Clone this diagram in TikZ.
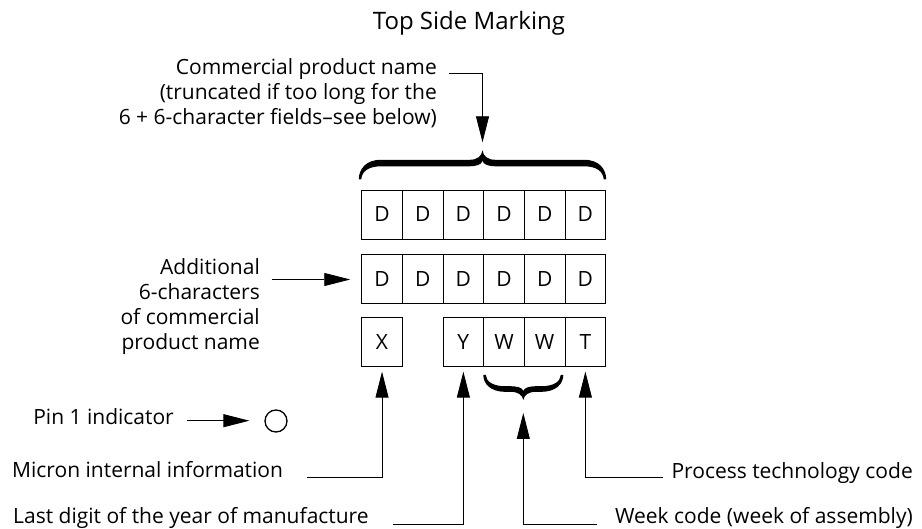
\documentclass[tikz,border=0pt]{standalone}
\usepackage{fontspec}
\setmainfont{Open Sans}
\usetikzlibrary{arrows.meta,calc}
\tikzset{
  pics/mybrace/.style={code={
    \fill (-#1,0) .. controls (-#1,-10) and ({-#1+7},-19.5) .. ({-#1+22},-19.5)
      -- (-13,-19.5) .. controls (-5,-19.5) and (-1,-23) .. (0,-29)
      .. controls (1,-23) and (5,-19.5) .. (13,-19.5)
      -- ({#1-22},-19.5) .. controls ({#1-7},-19.5) and (#1,-10) .. (#1,0)
      -- ({#1-2.5},0) .. controls ({#1-3},-8) and ({#1-10},-13) .. ({#1-22},-13)
      -- (14,-13) .. controls (6,-13) and (1,-14.5) .. (0,-18.5)
      .. controls (-1,-14.5) and (-6,-13) .. (-14,-13)
      -- ({-#1+22},-13) .. controls ({-#1+10},-13) and ({-#1+3},-8) .. ({-#1+2.5},0) -- cycle;
    \coordinate (-tip) at (0,-29);
  }},
  lbl/.style={inner sep=0pt, font=\fontsize{21}{25}\selectfont},
  ttl/.style={inner sep=0pt, font=\fontsize{24}{28}\selectfont},
  cell/.style={draw, line width=0.9pt, minimum width=40.67pt, minimum height=49pt,
    inner sep=0pt, font=\fontsize{21}{25}\selectfont},
  conn/.style={line width=0.9pt},
  arr/.style={line width=0.9pt, -{Triangle[length=26pt,width=13pt]}},
}
\begin{document}
\begin{tikzpicture}[x=1pt,y=-1pt]
\useasboundingbox (0,0) rectangle (922,529);

% title
\node[ttl, anchor=base] (title) at (469,29.3) {Top Side Marking};

% boxes
\foreach \i in {1,...,6} {
  \node[cell] (r1c\i) at ({361.7+40.67*(\i-0.5)},214.5) {D};
  \node[cell] (r2c\i) at ({361.7+40.67*(\i-0.5)},278.7) {D};
}
\node[cell] (x3) at ({361.7+40.67*0.5},341.7) {X};
\node[cell] (y3) at ({361.7+40.67*2.5},341.7) {Y};
\node[cell] (w3a) at ({361.7+40.67*3.5},341.7) {W};
\node[cell] (w3b) at ({361.7+40.67*4.5},341.7) {W};
\node[cell] (t3) at ({361.7+40.67*5.5},341.7) {T};

% braces
\pic (tb) at (482.5,179.3) {mybrace=123.7};
\pic[yscale=-0.862] (bb) at (523.3,375) {mybrace=40};

% commercial product name
\node[lbl, anchor=base east] (c1) at (437,75) {Commercial product name};
\node[lbl, anchor=base east] (c2) at (437,100) {(truncated if too long for the};
\node[lbl, anchor=base east] (c3) at (437,125) {6 + 6-character fields–see below)};
\coordinate (commstart) at (449.3,73.3);
\draw[arr] (commstart) -| ([yshift=8pt]tb-tip);

% additional
\node[lbl, anchor=base east] (a1) at (260,274.3) {Additional};
\node[lbl, anchor=base east] (a2) at (260,299.5) {6-characters};
\node[lbl, anchor=base east] (a3) at (260,324.7) {of commercial};
\node[lbl, anchor=base east] (a4) at (260,350) {product name};
\coordinate (addlstart) at (271.7,279.5);
\draw[arr] (addlstart) -- ($(addlstart -| r2c1.west)+(-11pt,0)$);

% pin 1
\node[lbl, anchor=base east] (pin) at (174,424.3) {Pin 1 indicator};
\node[draw, circle, line width=1.3pt, minimum size=22pt, inner sep=0pt] (pinc) at (276,421) {};
\coordinate (pinstart) at (186.7,420.7);
\draw[arr] (pinstart) -- ($(pinstart -| pinc.west)+(-15pt,0)$);

% bottom labels
\node[lbl, anchor=base west] (micron) at (12,478) {Micron internal information};
\node[lbl, anchor=base west] (last) at (13,523.5) {Last digit of the year of manufacture};
\node[lbl, anchor=base east] (proc) at (913,478.5) {Process technology code};
\node[lbl, anchor=base east] (week) at (913,523.5) {Week code (week of assembly)};

\coordinate (micronstart) at (306.7,477.3);
\coordinate (laststart) at (393.3,524.3);
\coordinate (weekstart) at (597.3,524.3);
\coordinate (procstart) at (662.7,477.3);

\draw[arr] (micronstart) -| ([yshift=-5pt]x3.south);
\draw[arr] (laststart) -| ([yshift=-5pt]y3.south);
\draw[arr] (weekstart) -| ([yshift=-13pt]bb-tip);
\draw[arr] (procstart) -| ([yshift=-5pt]t3.south);
\end{tikzpicture}
\end{document}
